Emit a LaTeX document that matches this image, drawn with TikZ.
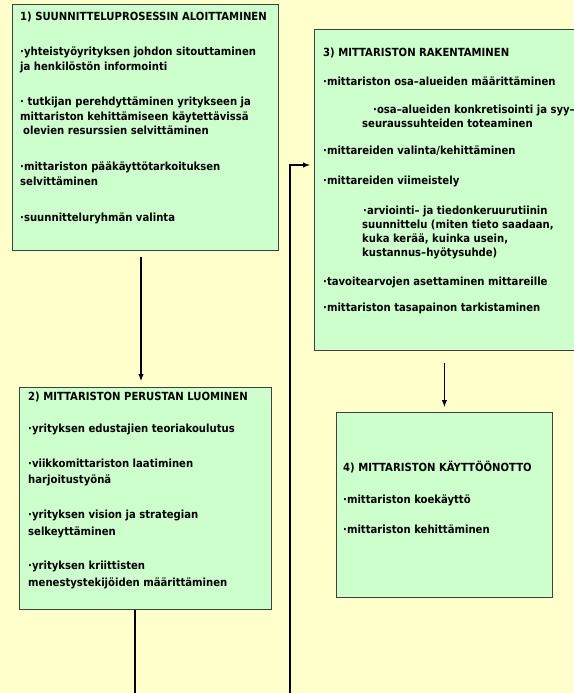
\documentclass[tikz,border=0pt]{standalone}
\usepackage{fontspec}
\setmainfont{DejaVu Sans Condensed}
\usetikzlibrary{arrows.meta}

\definecolor{bgyellow}{HTML}{FFFFCC}
\definecolor{boxgreen}{HTML}{CCFFCC}

\tikzset{
	box/.style={draw=black!75, fill=boxgreen, line width=0.8pt, anchor=north west, inner sep=0pt},
	txt/.style={anchor=north west, align=left, inner sep=0pt},
	link/.style={line width=1.1pt, -{Latex[length=7pt,width=5.5pt]}},
	plain/.style={line width=1.1pt},
}

\begin{document}
\begin{tikzpicture}[x=1pt, y=-1pt]
	\fill[bgyellow] (0,0) rectangle (573,693);
	\useasboundingbox (0,0) rectangle (573,693);
	
	% the four phases
	\node[box, minimum width=266pt, minimum height=246pt] (b1) at (12,4) {};
	\node[box, minimum width=252pt, minimum height=222pt] (b2) at (19,387) {};
	\node[box, minimum width=290pt, minimum height=321pt] (b3) at (314,29) {};
	\node[box, minimum width=216pt, minimum height=185pt] (b4) at (336,412) {};
	
	\node[txt, font=\bfseries\fontsize{11.2}{14.5}\selectfont] (t1) at (20,11.5) {1) SUUNNITTELUPROSESSIN ALOITTAMINEN\\[21pt]
		·yhteistyöyrityksen johdon sitouttaminen\\
		ja henkilöstön informointi\\[21pt]
		· tutkijan perehdyttäminen yritykseen ja\\
		mittariston kehittämiseen käytettävissä\\
		\hspace{3pt}olevien resurssien selvittäminen\\[21.5pt]
		·mittariston pääkäyttötarkoituksen\\
		selvittäminen\\[21.5pt]
		·suunnitteluryhmän valinta};
	
	\node[txt, font=\bfseries\fontsize{11.2}{16.7}\selectfont] (t2) at (28,392) {2) MITTARISTON PERUSTAN LUOMINEN\\[15pt]
		·yrityksen edustajien teoriakoulutus\\[18pt]
		·viikkomittariston laatiminen\\
		harjoitustyönä\\[18pt]
		·yrityksen vision ja strategian\\
		selkeyttäminen\\[18pt]
		·yrityksen kriittisten\\
		menestystekijöiden määrittäminen};
	
	\node[txt, font=\bfseries\fontsize{11.2}{14}\selectfont] (t3) at (323,48) {3) MITTARISTON RAKENTAMINEN\\[15pt]
		·mittariston osa–alueiden määrittäminen\\[14pt]
		\hspace{50pt}·osa–alueiden konkretisointi ja syy–\\
		\hspace{39pt}seuraussuhteiden toteaminen\\[13pt]
		·mittareiden valinta/kehittäminen\\[16pt]
		·mittareiden viimeistely\\[15.5pt]
		\hspace{40pt}·arviointi– ja tiedonkeruurutiinin\\
		\hspace{39pt}suunnittelu (miten tieto saadaan,\\
		\hspace{39pt}kuka kerää, kuinka usein,\\
		\hspace{39pt}kustannus–hyötysuhde)\\[15pt]
		·tavoitearvojen asettaminen mittareille\\[12.5pt]
		·mittariston tasapainon tarkistaminen};
	
	\node[txt, font=\bfseries\fontsize{11.2}{14}\selectfont] (t4) at (343,460.5) {4) MITTARISTON KÄYTTÖÖNOTTO\\[18pt]
		·mittariston koekäyttö\\[16pt]
		·mittariston kehittäminen};
	
	% connectors
	\coordinate (a1) at (141,257);
	\coordinate (e2) at (135,700);
	\coordinate (e3) at (290,700);
	\coordinate (j3) at (290,165);
	
	\draw[link, shorten >=6pt] (a1) -- (a1 |- b2.north);
	\draw[plain] (b2.south -| e2) -- (e2);
	\draw[link, shorten >=4pt] (e3) -- (j3) -- (j3 -| b3.west);
	\draw[link, shorten <=12pt, shorten >=5pt] (b3.south -| b4.north) -- (b4.north);
\end{tikzpicture}
\end{document}
